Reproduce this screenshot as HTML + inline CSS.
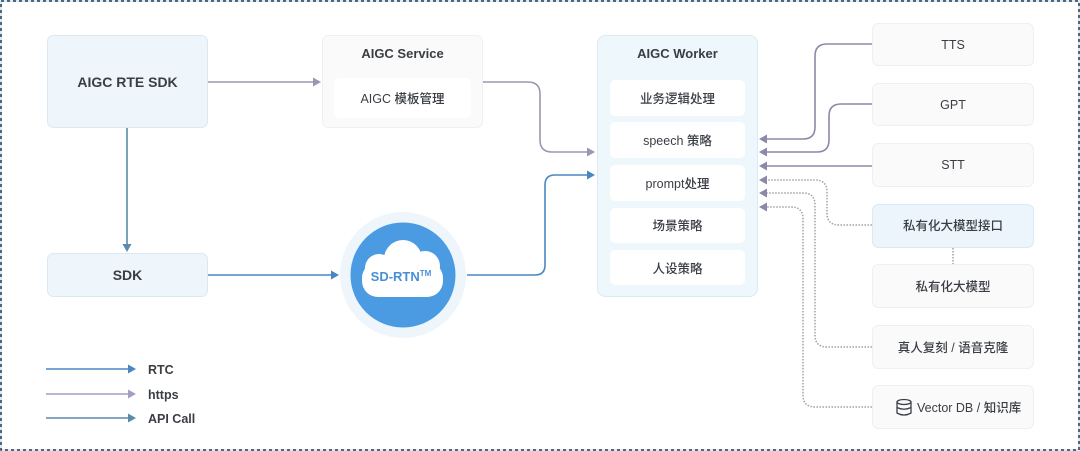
<!DOCTYPE html>
<html><head><meta charset="utf-8"><style>
html,body{margin:0;padding:0;background:#fff;}
svg{display:block;}
text{font-family:"Liberation Sans","Noto Sans CJK SC",sans-serif;fill:#3a3e44;}
.b{font-weight:700;}
.m{font-weight:500;font-size:12.5px;}
</style></head><body>
<svg width="1080" height="451" viewBox="0 0 1080 451" xmlns="http://www.w3.org/2000/svg">
<rect x="0" y="0" width="1080" height="451" fill="#fff"/>
<!-- outer dashed border -->
<rect x="1" y="1" width="1078" height="449" fill="none" stroke="#cfe3ef" stroke-width="1.5"/>
<rect x="1" y="1" width="1078" height="449" fill="none" stroke="#1f3a50" stroke-width="1.5" stroke-dasharray="3 3"/>

<!-- AIGC RTE SDK -->
<rect x="47.5" y="35.5" width="160" height="92" rx="6" fill="#eef6fb" stroke="#d9e9f3"/>
<text x="127.5" y="87" text-anchor="middle" class="b" font-size="14">AIGC RTE SDK</text>

<!-- AIGC Service -->
<rect x="322.5" y="35.5" width="160" height="92" rx="6" fill="#fafafa" stroke="#f0f0f0"/>
<rect x="334" y="78" width="137" height="40" rx="5" fill="#fff"/>
<text x="402.5" y="58" text-anchor="middle" class="b" font-size="13">AIGC Service</text>
<text x="402.5" y="103" text-anchor="middle" class="m">AIGC 模板管理</text>

<!-- SDK -->
<rect x="47.5" y="253.5" width="160" height="43" rx="6" fill="#eef6fb" stroke="#d9e9f3"/>
<text x="127.5" y="280" text-anchor="middle" class="b" font-size="14">SDK</text>

<!-- Cloud -->
<circle cx="403" cy="275" r="63" fill="#eef6fc"/>
<circle cx="403" cy="275" r="52.5" fill="#4b9be2"/>
<g fill="#fff">
<circle cx="403" cy="259" r="19"/>
<circle cx="379" cy="268" r="14"/>
<circle cx="425" cy="266" r="15"/>
<rect x="362" y="262" width="81" height="35" rx="16"/>
</g>
<text x="401" y="281" text-anchor="middle" class="b" font-size="13" style="fill:#4a8fd6">SD-RTN<tspan font-size="8" dy="-5">TM</tspan></text>

<!-- AIGC Worker -->
<rect x="597.5" y="35.5" width="160" height="261" rx="8" fill="#eef7fc" stroke="#d9ebf5"/>
<text x="677.5" y="58" text-anchor="middle" class="b" font-size="13">AIGC Worker</text>
<g fill="#fff">
<rect x="610" y="80" width="135" height="36" rx="5"/>
<rect x="610" y="122" width="135" height="36" rx="5"/>
<rect x="610" y="165" width="135" height="36" rx="5"/>
<rect x="610" y="208" width="135" height="35" rx="5"/>
<rect x="610" y="250" width="135" height="35" rx="5"/>
</g>
<text x="677.5" y="103" text-anchor="middle" class="m">业务逻辑处理</text>
<text x="677.5" y="145" text-anchor="middle" class="m">speech 策略</text>
<text x="677.5" y="188" text-anchor="middle" class="m">prompt处理</text>
<text x="677.5" y="230" text-anchor="middle" class="m">场景策略</text>
<text x="677.5" y="273" text-anchor="middle" class="m">人设策略</text>

<!-- right boxes -->
<g stroke="#efefef" fill="#fafafa">
<rect x="872.5" y="23.5" width="161" height="42" rx="6"/>
<rect x="872.5" y="83.5" width="161" height="42" rx="6"/>
<rect x="872.5" y="143.5" width="161" height="43" rx="6"/>
<rect x="872.5" y="204.5" width="161" height="43" rx="6" fill="#ebf5fb" stroke="#d8eaf3"/>
<rect x="872.5" y="264.5" width="161" height="43" rx="6"/>
<rect x="872.5" y="325.5" width="161" height="43" rx="6"/>
<rect x="872.5" y="385.5" width="161" height="43" rx="6"/>
</g>
<text x="953" y="49" text-anchor="middle" class="m">TTS</text>
<text x="953" y="109" text-anchor="middle" class="m">GPT</text>
<text x="953" y="169" text-anchor="middle" class="m">STT</text>
<text x="953" y="230" text-anchor="middle" class="m">私有化大模型接口</text>
<text x="953" y="291" text-anchor="middle" class="m">私有化大模型</text>
<text x="953" y="352" text-anchor="middle" class="m">真人复刻 / 语音克隆</text>
<text x="917" y="412" class="m">Vector DB / 知识库</text>
<!-- db icon -->
<g fill="none" stroke="#3a3e44" stroke-width="1.3">
<ellipse cx="904" cy="402" rx="7" ry="2.5"/>
<path d="M897 402 V413 Q904 417 911 413 V402"/>
<path d="M897 407.5 Q904 411 911 407.5"/>
</g>

<!-- dotted between private boxes -->
<path d="M953 248 V264" stroke="#a0a0a0" stroke-width="1.5" stroke-dasharray="1.5 1.5" fill="none"/>

<!-- connectors -->
<g fill="none" stroke-width="1.6">
<!-- purple https -->
<path d="M208 82 H314" stroke="#9d96b2"/>
<path d="M483 82 H528 Q540 82 540 94 V140 Q540 152 552 152 H588" stroke="#9d96b2"/>
<path d="M872 44 H827 Q815 44 815 56 V127 Q815 139 803 139 H766" stroke="#8e88a8"/>
<path d="M872 104 H841 Q829 104 829 116 V140 Q829 152 817 152 H766" stroke="#8e88a8"/>
<path d="M872 166 H766" stroke="#8e88a8"/>
<!-- blue RTC -->
<path d="M208 275 H332" stroke="#4a86c0"/>
<path d="M467 275 H535 Q545 275 545 265 V185 Q545 175 555 175 H588" stroke="#4a86c0"/>
<!-- api call -->
<path d="M127 128 V245" stroke="#5b8aaa"/>
<!-- legend -->
<path d="M46 369 H129" stroke="#4a86c0"/>
<path d="M46 394 H129" stroke="#a59ec0"/>
<path d="M46 418 H129" stroke="#5b8aaa"/>
</g>
<g fill="none" stroke="#a0a0a0" stroke-width="1.5" stroke-dasharray="1.5 1.5">
<path d="M872 225 H839 Q827 225 827 213 V192 Q827 180 815 180 H766"/>
<path d="M872 347 H827 Q815 347 815 335 V205 Q815 193 803 193 H766"/>
<path d="M872 407 H815 Q803 407 803 395 V219 Q803 207 791 207 H766"/>
</g>
<!-- arrowheads -->
<g>
<polygon points="313,77.5 321,82 313,86.5" fill="#9d96b2"/>
<polygon points="587,147.5 595,152 587,156.5" fill="#9d96b2"/>
<polygon points="587,170.5 595,175 587,179.5" fill="#4a86c0"/>
<polygon points="331,270.5 339,275 331,279.5" fill="#4a86c0"/>
<polygon points="122.5,244 131.5,244 127,252" fill="#5b8aaa"/>
<polygon points="767,134.5 759,139 767,143.5" fill="#8e88a8"/>
<polygon points="767,147.5 759,152 767,156.5" fill="#8e88a8"/>
<polygon points="767,161.5 759,166 767,170.5" fill="#8e88a8"/>
<polygon points="767,175.5 759,180 767,184.5" fill="#8e88a8"/>
<polygon points="767,188.5 759,193 767,197.5" fill="#8e88a8"/>
<polygon points="767,202.5 759,207 767,211.5" fill="#8e88a8"/>
<polygon points="128,364.5 136,369 128,373.5" fill="#4a86c0"/>
<polygon points="128,389.5 136,394 128,398.5" fill="#a59ec0"/>
<polygon points="128,413.5 136,418 128,422.5" fill="#5b8aaa"/>
</g>
<text x="148" y="374" class="b" font-size="12.5">RTC</text>
<text x="148" y="399" class="b" font-size="12.5">https</text>
<text x="148" y="423" class="b" font-size="12.5">API Call</text>
</svg>
</body></html>
